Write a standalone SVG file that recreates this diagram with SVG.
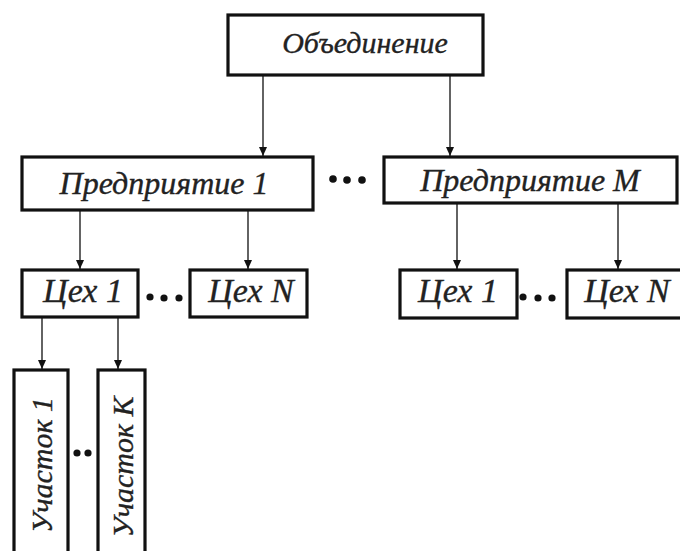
<svg xmlns="http://www.w3.org/2000/svg" width="680" height="551" viewBox="0 0 680 551">
<style>
.box{fill:#fff;stroke:#111;stroke-width:3.2}
.lbl{font-family:"Liberation Serif","DejaVu Serif",serif;font-style:italic;fill:#222;stroke:#222;stroke-width:0.35;text-anchor:middle}
.c{stroke:#222;stroke-width:1.4;fill:none}
.dot{fill:#111}
</style>
<defs>
<marker id="ah" markerWidth="10" markerHeight="10" refX="9" refY="5" orient="auto" markerUnits="userSpaceOnUse">
<path d="M0,1 L9,5 L0,9 Z" fill="#111"/>
</marker>
</defs>
<rect width="680" height="551" fill="#fff"/>
<g id="connectors">
<line class="c" x1="263" y1="75" x2="263" y2="156" marker-end="url(#ah)"/>
<line class="c" x1="450" y1="75" x2="450" y2="156" marker-end="url(#ah)"/>
<line class="c" x1="80" y1="210" x2="80" y2="269" marker-end="url(#ah)"/>
<line class="c" x1="248" y1="210" x2="248" y2="269" marker-end="url(#ah)"/>
<line class="c" x1="457" y1="203" x2="457" y2="269" marker-end="url(#ah)"/>
<line class="c" x1="618" y1="203" x2="618" y2="269" marker-end="url(#ah)"/>
<line class="c" x1="42" y1="317" x2="42" y2="369" marker-end="url(#ah)"/>
<line class="c" x1="118" y1="317" x2="118" y2="369" marker-end="url(#ah)"/>
</g>
<g id="dots">
<circle class="dot" cx="333" cy="179" r="3.8"/><circle class="dot" cx="347" cy="180" r="3.8"/><circle class="dot" cx="362" cy="180" r="3.8"/>
<circle class="dot" cx="150" cy="297" r="3.6"/><circle class="dot" cx="164" cy="298" r="3.6"/><circle class="dot" cx="179" cy="298" r="3.6"/>
<circle class="dot" cx="523" cy="297" r="3.6"/><circle class="dot" cx="538" cy="298" r="3.6"/><circle class="dot" cx="552" cy="298" r="3.6"/>
<circle class="dot" cx="77" cy="453" r="3.6"/><circle class="dot" cx="88" cy="453" r="3.6"/>
</g>
<g id="n-union">
<rect class="box" x="228" y="15" width="255" height="60"/>
<text class="lbl" x="365" y="53" font-size="30">Объединение</text>
</g>
<g id="n-ent1">
<rect class="box" x="22" y="157" width="291" height="53"/>
<text class="lbl" x="164" y="194" font-size="32">Предприятие 1</text>
</g>
<g id="n-entM">
<rect class="box" x="384" y="157" width="293" height="46"/>
<text class="lbl" x="530" y="191" font-size="32">Предприятие M</text>
</g>
<g id="n-shop1a">
<rect class="box" x="22" y="270" width="116" height="47"/>
<text class="lbl" x="83" y="302" font-size="34">Цех 1</text>
</g>
<g id="n-shopNa">
<rect class="box" x="190" y="270" width="117" height="47"/>
<text class="lbl" x="251" y="302" font-size="34">Цех N</text>
</g>
<g id="n-shop1b">
<rect class="box" x="400" y="270" width="117" height="48"/>
<text class="lbl" x="458" y="302" font-size="34">Цех 1</text>
</g>
<g id="n-shopNb">
<rect class="box" x="567" y="270" width="120" height="48"/>
<text class="lbl" x="627" y="302" font-size="34">Цех N</text>
</g>
<g id="n-sec1">
<rect class="box" x="14" y="370" width="54" height="190"/>
<text class="lbl" transform="translate(52,465) rotate(-90)" font-size="30">Участок 1</text>
</g>
<g id="n-secK">
<rect class="box" x="98" y="370" width="47" height="190"/>
<text class="lbl" transform="translate(133,467) rotate(-90)" font-size="30">Участок K</text>
</g>
</svg>
